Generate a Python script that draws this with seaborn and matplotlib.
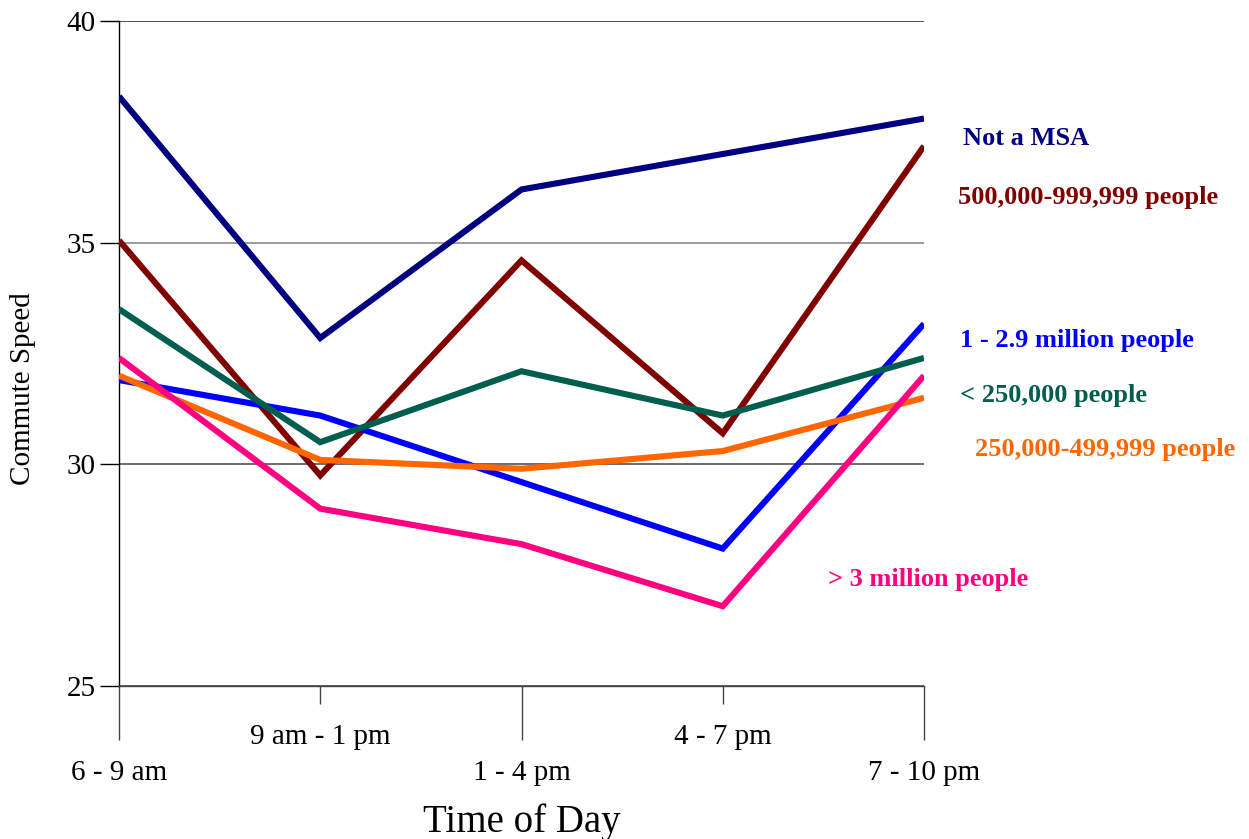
import numpy as np
import pandas as pd
import matplotlib
matplotlib.use("Agg")
import matplotlib.pyplot as plt
import seaborn as sns

# Time-of-day periods
periods = ["6 - 9 am", "9 am - 1 pm", "1 - 4 pm", "4 - 7 pm", "7 - 10 pm"]

# Average commute speed by metro-area size
not_msa = [38.3, 32.85, 36.2, 37.0, 37.8]
pop_500k_999k = [35.05, 29.75, 34.6, 30.7, 37.18]
pop_1m_29m = [31.9, 31.1, 29.6, 28.1, 33.17]
pop_under_250k = [33.5, 30.5, 32.1, 31.1, 32.4]
pop_250k_499k = [32.0, 30.1, 29.9, 30.3, 31.5]
pop_over_3m = [32.4, 29.0, 28.2, 26.8, 32.0]

series_names = [
    "Not a MSA",
    "500,000-999,999 people",
    "1 - 2.9 million people",
    "< 250,000 people",
    "250,000-499,999 people",
    "> 3 million people",
]
series_values = [not_msa, pop_500k_999k, pop_1m_29m,
                 pop_under_250k, pop_250k_499k, pop_over_3m]
series_colors = ["#000080", "#800000", "#0000FF", "#005E4E", "#FF6600", "#FF0080"]

# Where each series name is written (data coordinates)
label_x = [4.194, 4.169, 4.179, 4.179, 4.253, 3.523]
label_y = [37.34, 36.03, 32.80, 31.56, 30.34, 27.41]

rows = []
for name, vals in zip(series_names, series_values):
    for i, v in enumerate(vals):
        rows.append({"series": name, "pos": i, "speed": v})
df = pd.DataFrame(rows)

sns.set_style("white")
plt.rcParams["font.family"] = ["Liberation Serif", "DejaVu Serif"]
plt.rcParams["text.color"] = "black"
plt.rcParams["axes.labelcolor"] = "black"
plt.rcParams["xtick.color"] = "black"
plt.rcParams["ytick.color"] = "black"

fig = plt.figure(figsize=(12.49, 8.39), dpi=100)
ax = fig.add_axes([119 / 1249, 1 - 686 / 839, 805 / 1249, 665 / 839])

sns.lineplot(data=df, x="pos", y="speed", hue="series",
             palette=dict(zip(series_names, series_colors)),
             hue_order=series_names, linewidth=4.4, legend=False, ax=ax,
             zorder=3)
for line in ax.get_lines():
    line.set_solid_joinstyle("miter")
    line.set_solid_capstyle("butt")

ax.set_xlim(0, 4)
ax.set_ylim(25, 40)

# Y axis
ax.set_yticks([25, 30, 35, 40])
ax.tick_params(axis="y", left=True, direction="out", length=13.7, width=1.0,
               color="black", labelcolor="black", labelsize=21, pad=3)
ax.yaxis.grid(True, zorder=1)
grid_colors = ["#333333", "#444444", "#808080", "#222222"]
for gl, c in zip(ax.get_ygridlines(), grid_colors):
    gl.set_color(c)
    gl.set_linewidth(1.1)

# X axis: staggered labels on long and short ticks
ax.set_xticks([0, 2, 4], [periods[0], periods[2], periods[4]])
ax.set_xticks([1, 3], [periods[1], periods[3]], minor=True)
ax.tick_params(axis="x", which="major", bottom=True, direction="out",
               length=39, width=1.0, color="#444444", labelcolor="black",
               labelsize=21, pad=14)
ax.tick_params(axis="x", which="minor", bottom=True, direction="out",
               length=13, width=1.0, color="#444444", labelcolor="black",
               labelsize=21, pad=14)
ax.xaxis.grid(False)

for side in ["top", "right"]:
    ax.spines[side].set_visible(False)
ax.spines["left"].set_color("black")
ax.spines["left"].set_linewidth(1.0)
ax.spines["bottom"].set_color("#444444")
ax.spines["bottom"].set_linewidth(1.0)

ax.set_xlabel("Time of Day", fontsize=28, color="black")
ax.xaxis.set_label_coords(0.5, -0.177)
ax.set_ylabel("Commute Speed", fontsize=21, color="black")
ax.yaxis.set_label_coords(-0.103, 0.447)

for name, c, x, y in zip(series_names, series_colors, label_x, label_y):
    ax.text(x, y, name, color=c, fontsize=19, fontweight="bold",
            ha="left", va="center", clip_on=False)

fig.savefig("out.png", dpi=100)
